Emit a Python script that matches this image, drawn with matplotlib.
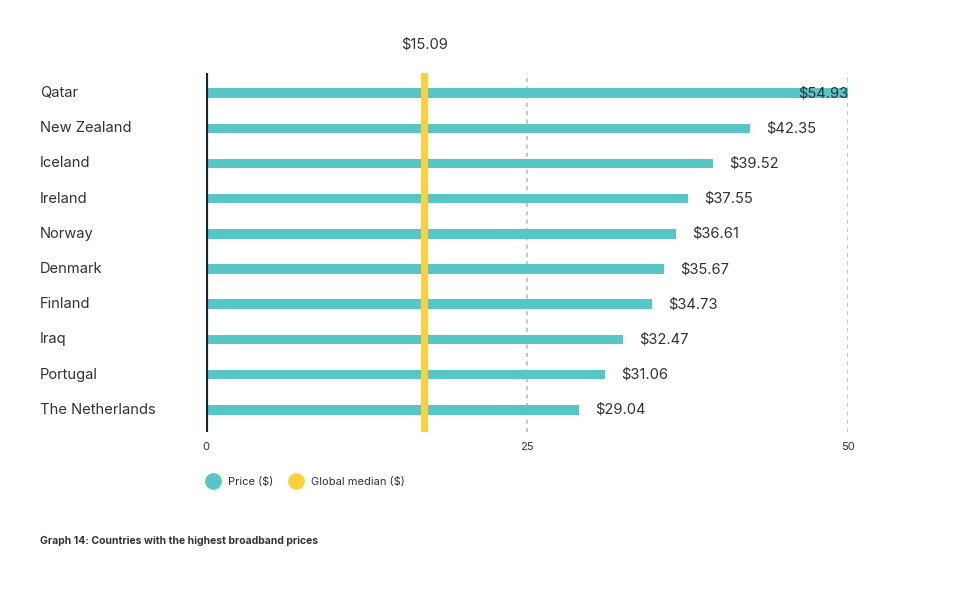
import matplotlib
matplotlib.use("Agg")
import matplotlib.pyplot as plt
from matplotlib.lines import Line2D
from matplotlib.transforms import blended_transform_factory

# ── Data ─────────────────────────────────────────────────────────────────────
countries = ["Qatar", "New Zealand", "Iceland", "Ireland", "Norway",
             "Denmark", "Finland", "Iraq", "Portugal", "The Netherlands"]
prices = [54.93, 42.35, 39.52, 37.55, 36.61, 35.67, 34.73, 32.47, 31.06, 29.04]
median_label = 15.09
median_drawn = 17.0        # where the line sits in the original graphic
x_ticks = [0, 25, 50]

# ── Style ────────────────────────────────────────────────────────────────────
TEAL = "#57c6c7"
YELLOW = "#fdd13c"
NAVY = "#1c2430"
TEXT = "#2e323a"
GRID = "#bdbdbd"
plt.rcParams["font.family"] = ["Inter", "DejaVu Sans"]

fig = plt.figure(figsize=(9.55, 5.89), dpi=100)
ax = fig.add_axes([206 / 955, 1 - 432 / 589, 642 / 955, 359 / 589])

xmax = x_ticks[-1]
ypos = list(range(len(countries)))
shown = [min(p, xmax) for p in prices]
ax.barh(ypos, shown, height=0.27, color=TEAL, zorder=2)

for y, p in zip(ypos, prices):
    if p > xmax:
        ax.text(xmax, y, f"${p:.2f}", ha="right", va="center",
                fontsize=10.6, color=TEXT, zorder=4)
    else:
        ax.text(p + 1.25, y, f"${p:.2f}", ha="left", va="center",
                fontsize=10.6, color=TEXT, zorder=4)

for t in x_ticks[1:]:
    ax.axvline(t, color=GRID, lw=1.2, ls=(0, (2.5, 2.5)), zorder=1)
ax.axvline(median_drawn, color=YELLOW, lw=5, zorder=3)
ax.axvline(0, color=NAVY, lw=3, zorder=5)

# median value label above the plot
top = blended_transform_factory(ax.transData, fig.transFigure)
ax.text(median_drawn, 1 - 45 / 589, f"${median_label:.2f}", transform=top,
        ha="center", va="center", fontsize=10.6, color=TEXT)

ax.set_xlim(0, xmax)
ax.set_ylim(len(countries) - 1 + 0.63, -0.57)
ax.set_xticks(x_ticks)
ax.set_xticklabels([str(t) for t in x_ticks], fontsize=8, color=TEXT)
ax.tick_params(axis="x", length=0, pad=7)
ax.set_yticks([])
for s in ax.spines.values():
    s.set_visible(False)

# country names, left-aligned at the page margin
left = blended_transform_factory(fig.transFigure, ax.transData)
for y, c in zip(ypos, countries):
    ax.text(40 / 955, y, c, transform=left,
            ha="left", va="center", fontsize=10.6, color=TEXT)

handles = [Line2D([], [], marker="o", ls="", markersize=11,
                  markerfacecolor=TEAL, markeredgecolor=TEAL),
           Line2D([], [], marker="o", ls="", markersize=11,
                  markerfacecolor=YELLOW, markeredgecolor=YELLOW)]
fig.legend(handles, ["Price ($)", "Global median ($)"],
           loc="center left", bbox_to_anchor=(192 / 955, 1 - 482 / 589),
           frameon=False, ncol=2, fontsize=8, handletextpad=0.3,
           columnspacing=1.1, labelcolor=TEXT)

fig.text(40 / 955, 1 - 541 / 589,
         "Graph 14: Countries with the highest broadband prices",
         ha="left", va="center", fontsize=7.5, fontweight="bold", color=TEXT)

fig.savefig("out.png", dpi=100, facecolor="white")
